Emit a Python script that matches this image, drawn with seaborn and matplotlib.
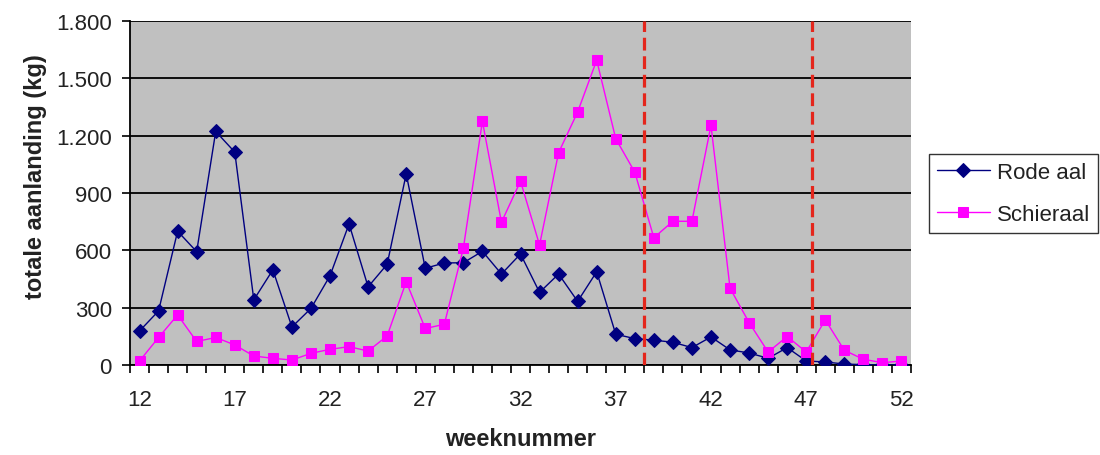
import numpy as np
import pandas as pd
import matplotlib
matplotlib.use("Agg")
import matplotlib.pyplot as plt
from matplotlib.ticker import FuncFormatter, FixedLocator
import seaborn as sns

# Weekly landings (kg) per eel type
weeks = list(range(12, 53))
rode_aal = [178, 283, 700, 593, 1222, 1114, 341, 498, 199, 296,
            467, 738, 409, 527, 1000, 506, 534, 535, 595, 476,
            581, 380, 476, 333, 488, 161, 138, 130, 119, 91,
            147, 79, 63, 35, 91, 21, 16, 5, 2, 0, 0]
schieraal = [21, 144, 262, 123, 144, 105, 47, 35, 26, 61,
             82, 96, 73, 152, 436, 191, 213, 611, 1275, 747,
             962, 628, 1111, 1324, 1595, 1184, 1009, 666, 752, 752,
             1254, 402, 222, 68, 149, 68, 236, 77, 30, 12, 21]
series_names = ["Rode aal", "Schieraal"]
marker_lines = [38.5, 47.3]
y_ticks = [0, 300, 600, 900, 1200, 1500, 1800]
x_labels = [12, 17, 22, 27, 32, 37, 42, 47, 52]

df = pd.DataFrame({"week": weeks, "Rode aal": rode_aal, "Schieraal": schieraal})

sns.set_style("white")
plt.rcParams["font.family"] = ["Liberation Sans", "DejaVu Sans"]

fig = plt.figure(figsize=(11, 4.56), dpi=100)
ax = fig.add_axes([130 / 1100, 90 / 456, 781 / 1100, 344 / 456])
ax.set_facecolor("#C0C0C0")

sns.lineplot(data=df, x="week", y="Rode aal", ax=ax, color="#000080",
             marker="D", markersize=7, markeredgecolor="#000080",
             linewidth=1.0, label=series_names[0], zorder=3)
sns.lineplot(data=df, x="week", y="Schieraal", ax=ax, color="#FF00FF",
             marker="s", markersize=7.5, markeredgecolor="#FF00FF",
             linewidth=1.0, label=series_names[1], zorder=4)

for xv in marker_lines:
    ax.axvline(xv, color="#E4261C", linestyle=(0, (4, 1.8)), linewidth=2.3, zorder=5)

ax.set_xlim(11.5, 52.5)
ax.set_ylim(0, 1800)

# horizontal gridlines
ax.yaxis.set_major_locator(FixedLocator(y_ticks))
ax.grid(axis="y", color="black", linewidth=1.3, zorder=0)
ax.set_axisbelow(True)
ax.yaxis.set_major_formatter(FuncFormatter(lambda v, p: f"{int(v):,}".replace(",", ".")))

# category ticks at boundaries, labels every 5 weeks
ax.set_xticks(np.arange(11.5, 53.0, 1.0))
ax.set_xticklabels([])
ax.set_xticks(x_labels, minor=True)
ax.set_xticklabels([str(w) for w in x_labels], minor=True)
ax.tick_params(axis="x", which="major", direction="out", length=6, width=1.2, color="black", bottom=True)
ax.tick_params(axis="x", which="minor", length=0, labelsize=16, pad=17, labelcolor="#222222")
ax.tick_params(axis="y", direction="out", length=6, width=1.2, color="black", left=True,
               labelsize=16, pad=7, labelcolor="#222222")

for side in ["top", "right"]:
    ax.spines[side].set_visible(False)
for side in ["left", "bottom"]:
    ax.spines[side].set_color("black")
    ax.spines[side].set_linewidth(1.3)

ax.set_xlabel("weeknummer", fontsize=17, fontweight="bold", color="#222222")
ax.set_ylabel("totale aanlanding (kg)", fontsize=17, fontweight="bold", color="#222222")
ax.xaxis.set_label_coords(0.5, -0.18)
ax.yaxis.set_label_coords(-0.106, 0.55)

leg = ax.legend(loc="upper left", bbox_to_anchor=(929 / 1100, 1 - 155 / 456),
                bbox_transform=fig.transFigure, fontsize=16, frameon=True,
                fancybox=False, edgecolor="black", handlelength=2.4,
                handletextpad=0.3, borderpad=0.35, labelspacing=0.95,
                borderaxespad=0)
leg.get_frame().set_linewidth(1.0)
for t in leg.get_texts():
    t.set_color("#222222")

fig.savefig("out.png", dpi=100, facecolor="white")
